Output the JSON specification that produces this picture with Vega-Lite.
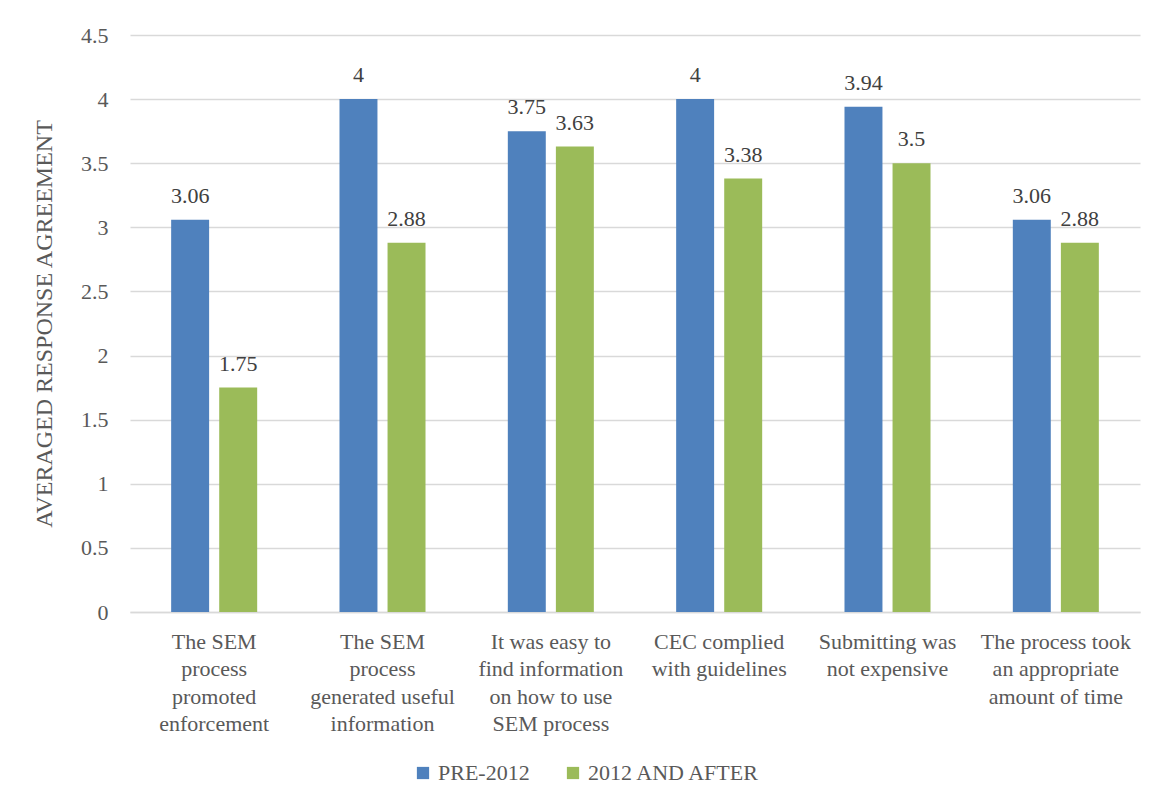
{
  "$schema": "https://vega.github.io/schema/vega-lite/v6.json",
  "autosize": "none",
  "width": 1010,
  "height": 577,
  "padding": {"left": 130, "top": 35, "right": 19, "bottom": 197},
  "background": "white",
  "config": {
    "font": "Liberation Serif, Times New Roman, serif",
    "view": {"stroke": null},
    "axis": {"labelColor": "#595959", "titleColor": "#595959", "labelFont": "Liberation Serif, Times New Roman, serif", "titleFont": "Liberation Serif, Times New Roman, serif"},
    "legend": {"labelFont": "Liberation Serif, Times New Roman, serif", "labelColor": "#595959"}
  },
  "data": {
    "values": [
      {"cat": "The SEM|process|promoted|enforcement", "series": "PRE-2012", "value": 3.06},
      {"cat": "The SEM|process|promoted|enforcement", "series": "2012 AND AFTER", "value": 1.75},
      {"cat": "The SEM|process|generated useful|information", "series": "PRE-2012", "value": 4},
      {"cat": "The SEM|process|generated useful|information", "series": "2012 AND AFTER", "value": 2.88},
      {"cat": "It was easy to|find information|on how to use|SEM process", "series": "PRE-2012", "value": 3.75},
      {"cat": "It was easy to|find information|on how to use|SEM process", "series": "2012 AND AFTER", "value": 3.63},
      {"cat": "CEC complied|with guidelines", "series": "PRE-2012", "value": 4},
      {"cat": "CEC complied|with guidelines", "series": "2012 AND AFTER", "value": 3.38},
      {"cat": "Submitting was|not expensive", "series": "PRE-2012", "value": 3.94},
      {"cat": "Submitting was|not expensive", "series": "2012 AND AFTER", "value": 3.5},
      {"cat": "The process took|an appropriate|amount of time", "series": "PRE-2012", "value": 3.06},
      {"cat": "The process took|an appropriate|amount of time", "series": "2012 AND AFTER", "value": 2.88}
    ]
  },
  "encoding": {
    "x": {
      "field": "cat", "type": "nominal",
      "sort": ["The SEM|process|promoted|enforcement", "The SEM|process|generated useful|information", "It was easy to|find information|on how to use|SEM process", "CEC complied|with guidelines", "Submitting was|not expensive", "The process took|an appropriate|amount of time"],
      "scale": {"paddingInner": 0.489, "paddingOuter": 0.2445},
      "axis": {
        "title": null, "labelAngle": 0, "labelLimit": 0,
        "labelExpr": "split(datum.label, '|')",
        "labelFontSize": 22, "labelLineHeight": 27.5, "labelPadding": 29,
        "labelBaseline": "middle",
        "ticks": false, "domainColor": "#d9d9d9", "domainWidth": 1.5, "grid": false
      }
    },
    "xOffset": {
      "field": "series", "type": "nominal",
      "sort": ["PRE-2012", "2012 AND AFTER"],
      "scale": {"paddingInner": 0.21, "paddingOuter": 0}
    },
    "y": {
      "field": "value", "type": "quantitative",
      "scale": {"domain": [0, 4.5], "nice": false},
      "axis": {
        "title": "AVERAGED RESPONSE AGREEMENT",
        "titleFontSize": 24, "titleFontWeight": "normal", "titlePadding": 24,
        "values": [0, 0.5, 1, 1.5, 2, 2.5, 3, 3.5, 4, 4.5],
        "labelExpr": "datum.value + ''",
        "labelFontSize": 22, "labelPadding": 22,
        "ticks": false, "domain": false,
        "gridColor": "#d9d9d9", "gridWidth": 1.5
      }
    }
  },
  "layer": [
    {
      "mark": {"type": "bar"},
      "encoding": {
        "color": {
          "field": "series", "type": "nominal",
          "sort": ["PRE-2012", "2012 AND AFTER"],
          "scale": {"domain": ["PRE-2012", "2012 AND AFTER"], "range": ["#4F81BD", "#9BBB59"]},
          "legend": {
            "title": null, "orient": "none", "legendX": 282, "legendY": 727, "direction": "horizontal",
            "symbolType": "square", "symbolSize": 150, "symbolStrokeWidth": 0,
            "labelFontSize": 22, "labelLimit": 0, "columnPadding": 32, "labelOffset": 4
          }
        }
      }
    },
    {
      "mark": {"type": "text", "baseline": "bottom", "dy": -12, "fontSize": 22, "color": "#404040", "font": "Liberation Serif, Times New Roman, serif"},
      "encoding": {
        "text": {"field": "value", "type": "quantitative", "format": "~g"}
      }
    }
  ]
}
